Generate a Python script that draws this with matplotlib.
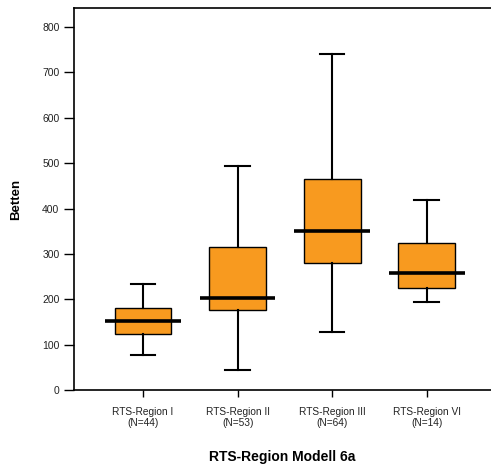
import numpy as np
import matplotlib.pyplot as plt

plt.rcParams['font.family'] = ['Liberation Sans', 'DejaVu Sans']

regions = ["RTS-Region I", "RTS-Region II", "RTS-Region III", "RTS-Region VI"]
counts = [44, 53, 64, 14]
whislo = [78, 45, 127, 193]
q1 = [123, 176, 279, 224]
med = [153, 203, 350, 257]
q3 = [180, 316, 465, 323]
whishi = [233, 494, 740, 418]

stats = []
for i in range(len(regions)):
    stats.append(dict(whislo=whislo[i], q1=q1[i], med=med[i], q3=q3[i],
                      whishi=whishi[i], fliers=[]))

pos = np.arange(1, len(regions) + 1)

fig = plt.figure(figsize=(4.91, 4.66), dpi=100)
ax = fig.add_axes([74/491, 76/466, 417/491, 382/466])

ax.bxp(stats, positions=pos, widths=0.6, patch_artist=True, showfliers=False,
       capwidths=0.26,
       boxprops=dict(facecolor="#F89A1F", edgecolor="black", linewidth=1.0),
       whiskerprops=dict(color="black", linewidth=1.5),
       capprops=dict(color="black", linewidth=1.5),
       medianprops=dict(visible=False))
ax.hlines(med, pos - 0.4, pos + 0.4, colors="black", linewidth=2.6, zorder=5)

ax.set_xlim(0.27, 4.68)
ax.set_ylim(0, 842)
ax.set_yticks(np.arange(0, 801, 100))
ax.set_xticks(pos)
ax.set_xticklabels([f"{r}\n(N={n})" for r, n in zip(regions, counts)],
                   fontsize=7.3, color="#222222")
ax.tick_params(axis='y', labelsize=7.5, length=7, width=1, labelcolor="#222222")
ax.tick_params(axis='x', length=5, width=1, pad=7)
for t in ax.get_xticklabels():
    t.set_linespacing(1.15)

ax.spines['right'].set_visible(False)
for s in ['left', 'bottom', 'top']:
    ax.spines[s].set_linewidth(1.2)

ax.set_ylabel("Betten", fontsize=9.5, fontweight='bold', labelpad=14)
ax.set_xlabel("RTS-Region Modell 6a", fontsize=10, fontweight='bold', labelpad=16)

fig.savefig("out.png", dpi=100)
